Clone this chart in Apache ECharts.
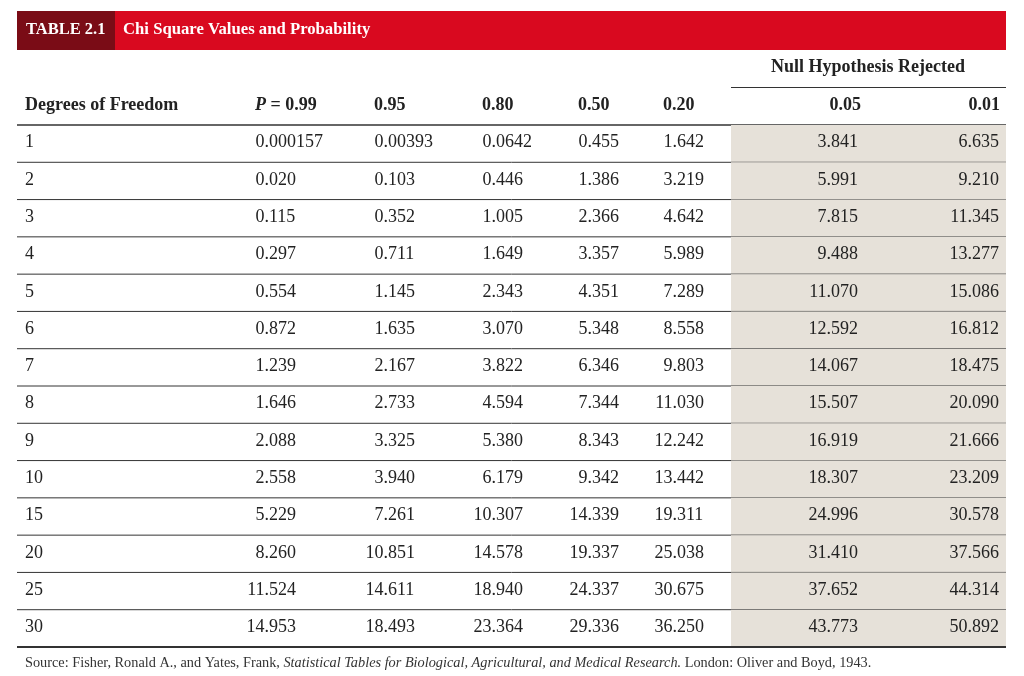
<!DOCTYPE html>
<html>
<head>
<meta charset="utf-8">
<script src="https://cdn.jsdelivr.net/npm/echarts@6/dist/echarts.min.js"></script>
<style>
  html, body { margin: 0; padding: 0; background: #fff; }
  #main { width: 1024px; height: 676px; }
</style>
</head>
<body>
<div id="main"></div>
<script>
// table data
const dof = ['1', '2', '3', '4', '5', '6', '7', '8', '9', '10', '15', '20', '25', '30'];
const p99 = ['0.000157', '0.020', '0.115', '0.297', '0.554', '0.872', '1.239', '1.646', '2.088', '2.558', '5.229', '8.260', '11.524', '14.953'];
const p95 = ['0.00393', '0.103', '0.352', '0.711', '1.145', '1.635', '2.167', '2.733', '3.325', '3.940', '7.261', '10.851', '14.611', '18.493'];
const p80 = ['0.0642', '0.446', '1.005', '1.649', '2.343', '3.070', '3.822', '4.594', '5.380', '6.179', '10.307', '14.578', '18.940', '23.364'];
const p50 = ['0.455', '1.386', '2.366', '3.357', '4.351', '5.348', '6.346', '7.344', '8.343', '9.342', '14.339', '19.337', '24.337', '29.336'];
const p20 = ['1.642', '3.219', '4.642', '5.989', '7.289', '8.558', '9.803', '11.030', '12.242', '13.442', '19.311', '25.038', '30.675', '36.250'];
const p05 = ['3.841', '5.991', '7.815', '9.488', '11.070', '12.592', '14.067', '15.507', '16.919', '18.307', '24.996', '31.410', '37.652', '43.773'];
const p01 = ['6.635', '9.210', '11.345', '13.277', '15.086', '16.812', '18.475', '20.090', '21.666', '23.209', '30.578', '37.566', '44.314', '50.892'];
const headers = ['Degrees of Freedom', '{i|P} = 0.99', '0.95', '0.80', '0.50', '0.20', '0.05', '0.01'];

// column layout: decimal-aligned columns (anchor = decimal point), right-aligned shaded columns
const decCols = [
  { vals: p99, x: 264.5, hx: 255 },
  { vals: p95, x: 383.5, hx: 374 },
  { vals: p80, x: 491.5, hx: 482 },
  { vals: p50, x: 587.5, hx: 578 },
  { vals: p20, x: 672.5, hx: 663 }
];
const rightCols = [
  { vals: p05, x: 858, hx: 861 },
  { vals: p01, x: 999, hx: 1000 }
];

const FONT = '"Liberation Serif", "Times New Roman", serif';
const TXT = '#222';
const LEFT = 17, RIGHT = 1006, SHADE_X = 731;
const HEAD_Y = 105;

let myChart = echarts.init(document.getElementById('main'));

function txt(x, y, s, align, extra) {
  return {
    type: 'text',
    x: x, y: y,
    style: Object.assign({
      text: s, fill: TXT, font: '18px ' + FONT,
      align: align, verticalAlign: 'middle'
    }, extra || {})
  };
}

let headerGraphics = [
  // title bar
  { type: 'rect', shape: { x: LEFT, y: 11, width: RIGHT - LEFT, height: 39 }, style: { fill: '#d9091f' } },
  { type: 'rect', shape: { x: LEFT, y: 11, width: 98, height: 39 }, style: { fill: '#7a0c16' } },
  { type: 'text', x: 26, y: 30, style: { text: 'TABLE 2.1', fill: '#fff', font: 'bold 16.5px ' + FONT, verticalAlign: 'middle' } },
  { type: 'text', x: 123, y: 30, style: { text: 'Chi Square Values and Probability', fill: '#fff', font: 'bold 16.7px ' + FONT, verticalAlign: 'middle' } },
  // spanner
  { type: 'text', x: 868, y: 67, style: { text: 'Null Hypothesis Rejected', fill: TXT, font: 'bold 18px ' + FONT, align: 'center', verticalAlign: 'middle' } },
  { type: 'line', shape: { x1: SHADE_X, y1: 87.5, x2: RIGHT, y2: 87.5 }, style: { stroke: '#333', lineWidth: 1.2 } },
  // header rule
  { type: 'line', shape: { x1: LEFT, y1: 125, x2: RIGHT, y2: 125 }, style: { stroke: '#333', lineWidth: 1.6 } },
  // source
  {
    type: 'text', x: 25, y: 663,
    style: {
      text: '{n|Source: Fisher, Ronald A., and Yates, Frank, }{it|Statistical Tables for Biological, Agricultural, and Medical Research.}{n| London: Oliver and Boyd, 1943.}',
      verticalAlign: 'middle',
      rich: {
        n: { font: '14.3px ' + FONT, fill: '#333' },
        it: { font: 'italic 14.3px ' + FONT, fill: '#333' }
      }
    }
  }
];

// column headers
headerGraphics.push({
  type: 'text', x: 25, y: HEAD_Y,
  style: { text: headers[0], fill: TXT, font: 'bold 18px ' + FONT, verticalAlign: 'middle' }
});
decCols.forEach((c, i) => {
  headerGraphics.push({
    type: 'text', x: c.hx, y: HEAD_Y,
    style: {
      text: headers[i + 1], fill: TXT, font: 'bold 18px ' + FONT, verticalAlign: 'middle',
      rich: { i: { font: 'italic bold 18px ' + FONT, fill: TXT } }
    }
  });
});
rightCols.forEach((c, i) => {
  headerGraphics.push({
    type: 'text', x: c.hx, y: HEAD_Y,
    style: { text: headers[i + 6], fill: TXT, font: 'bold 18px ' + FONT, align: 'right', verticalAlign: 'middle' }
  });
});

function renderRow(params, api) {
  let row = api.value(1);
  let c = api.coord([0, row]);
  let h = api.size([0, 1])[1];
  let yTop = c[1] - h / 2, yBot = c[1] + h / 2, y = c[1] - 1;
  let last = row === dof.length - 1;
  let kids = [
    { type: 'rect', shape: { x: api.coord([SHADE_X, row])[0], y: yTop, width: RIGHT - SHADE_X, height: h }, style: { fill: '#e6e1d9' } },
    { type: 'line', shape: { x1: LEFT, y1: yBot, x2: RIGHT, y2: yBot }, style: { stroke: '#333', lineWidth: last ? 2 : 1 } },
    txt(25, y, dof[row], 'left')
  ];
  decCols.forEach((col) => {
    let s = col.vals[row];
    let k = s.indexOf('.');
    let x = api.coord([col.x, row])[0];
    kids.push(txt(x, y, s.slice(0, k), 'right'));
    kids.push(txt(x, y, s.slice(k), 'left'));
  });
  rightCols.forEach((col) => {
    kids.push(txt(api.coord([col.x, row])[0], y, col.vals[row], 'right'));
  });
  return { type: 'group', children: kids };
}

let option = {
  animation: false,
  grid: { left: 0, right: 0, top: 125, bottom: 29 },
  xAxis: { type: 'value', min: 0, max: 1024, show: false },
  yAxis: { type: 'category', data: dof, inverse: true, show: false },
  graphic: headerGraphics,
  series: [
    {
      type: 'custom',
      renderItem: renderRow,
      data: dof.map((d, i) => [0, i]),
      encode: { x: 0, y: 1 },
      silent: true
    }
  ]
};
myChart.setOption(option);
window.addEventListener('resize', function () {
  myChart.resize();
});
</script>
</body>
</html>
